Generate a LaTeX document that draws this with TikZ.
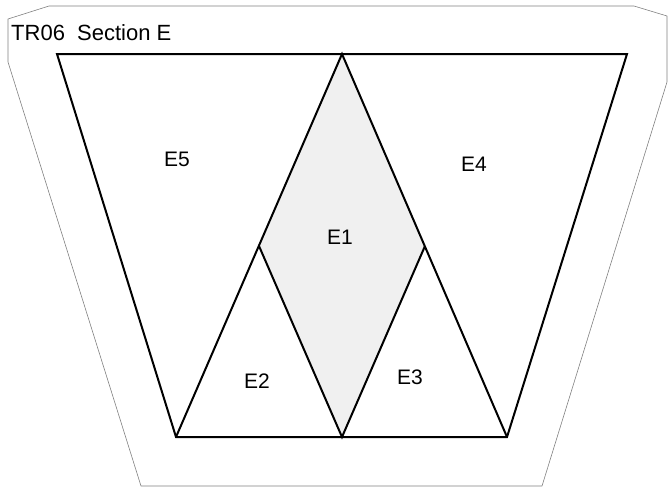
\documentclass[tikz,border=0pt]{standalone}
\usepackage{fontspec}
\setmainfont{Liberation Sans}
\usetikzlibrary{positioning}
\tikzstyle{outline} = [draw=gray, line width=0.6pt]
\tikzstyle{edge} = [draw=black, line width=2pt, line join=miter]
\tikzstyle{shaded} = [fill=gray!12]
\tikzstyle{piece} = [font=\fontsize{21}{25}\selectfont, inner sep=0pt]
\tikzstyle{caption} = [font=\fontsize{22}{26}\selectfont, anchor=base west, inner sep=0pt]

\begin{document}
\begin{tikzpicture}[x=1pt, y=-1pt]
	\useasboundingbox (0,0) rectangle (668,487);
	% section outline
	\draw[outline] (8,19) -- (49,6) -- (634,6) -- (667,16) -- (667,82) -- (542,486) -- (141,486) -- (8,62) -- cycle;
	\node[caption] (title) at (11,41) {TR06\ \ Section E};
	% corners of the pieces
	\coordinate (tl) at (57,54);
	\coordinate (top) at (342,54);
	\coordinate (tr) at (627,54);
	\coordinate (left) at (259,246);
	\coordinate (right) at (425,246);
	\coordinate (bl) at (176,437);
	\coordinate (bot) at (342,437);
	\coordinate (br) at (507,437);
	\fill[shaded] (top) -- (right) -- (bot) -- (left) -- cycle;
	\draw[edge] (tl) -- (tr) -- (br) -- (bl) -- cycle;
	\draw[edge] (bl) -- (top) -- (br);
	\draw[edge] (left) -- (bot) -- (right);
	% labels
	\node[piece] (e5) at (177,159) {E5};
	\node[piece] (e4) at (474,164) {E4};
	\node[piece] (e1) at (340,237) {E1};
	\node[piece] (e2) at (257,381) {E2};
	\node[piece] (e3) at (410,377) {E3};
\end{tikzpicture}
\end{document}
